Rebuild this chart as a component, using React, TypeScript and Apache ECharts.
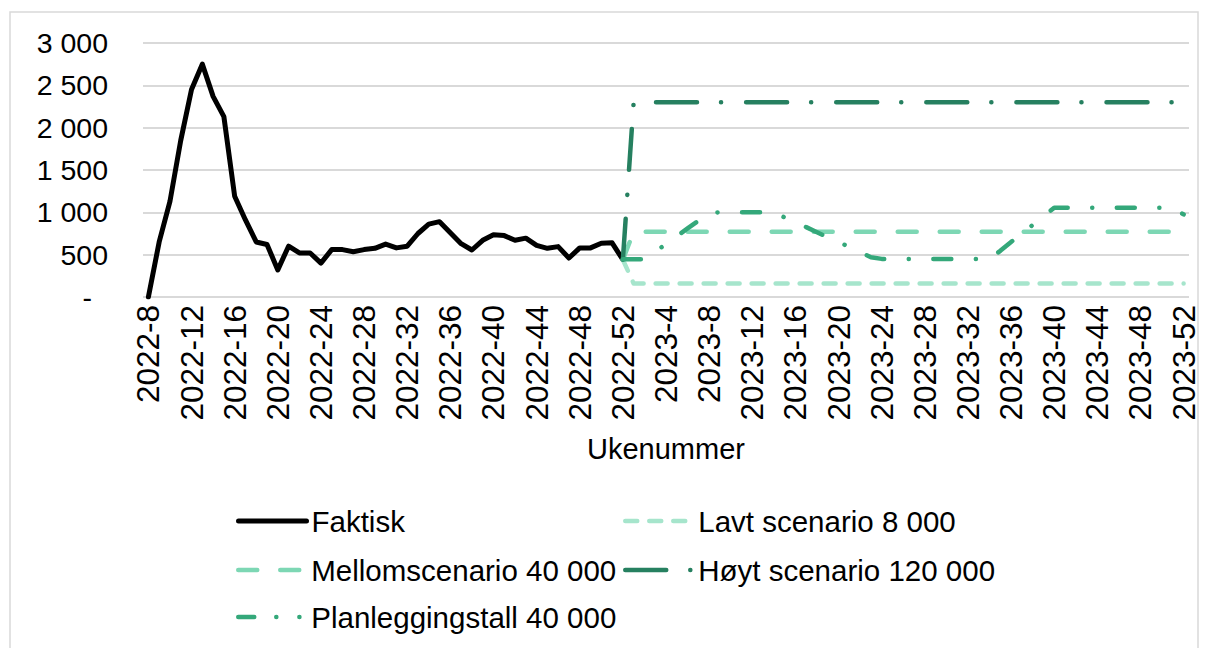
import React, { useEffect, useRef } from "react";
import * as echarts from "echarts";

// Week categories: 2022-8 .. 2022-52, 2023-1 .. 2023-52
const weeks2022 = { year: 2022, from: 8, to: 52 };
const weeks2023 = { year: 2023, from: 1, to: 52 };
const categories: string[] = [];
for (const r of [weeks2022, weeks2023]) {
  for (let w = r.from; w <= r.to; w++) categories.push(`${r.year}-${w}`);
}

// Actual values, 2022-8 .. 2022-52
const faktisk = [
  0, 650, 1130, 1850, 2450, 2750, 2370, 2130, 1190, 910,
  650, 620, 320, 600, 520, 520, 400, 560, 560, 535,
  560, 575, 625, 580, 600, 750, 860, 890, 760, 630,
  555, 670, 735, 725, 670, 695, 610, 575, 595, 460,
  580, 580, 635, 640, 440,
];

// Scenarios, 2022-52 .. 2023-52
const lavt = [
  440, 160, 160, 160, 160, 160, 160, 160, 160, 160, 160, 160, 160, 160, 160, 160, 160, 160,
  160, 160, 160, 160, 160, 160, 160, 160, 160, 160, 160, 160, 160, 160, 160, 160, 160, 160,
  160, 160, 160, 160, 160, 160, 160, 160, 160, 160, 160, 160, 160, 160, 160, 160, 160,
];
const mellom = [
  440, 770, 770, 770, 770, 770, 770, 770, 770, 770, 770, 770, 770, 770, 770, 770, 770, 770,
  770, 770, 770, 770, 770, 770, 770, 770, 770, 770, 770, 770, 770, 770, 770, 770, 770, 770,
  770, 770, 770, 770, 770, 770, 770, 770, 770, 770, 770, 770, 770, 770, 770, 770, 770,
];
const hoyt = [
  440, 2300, 2300, 2300, 2300, 2300, 2300, 2300, 2300, 2300, 2300, 2300, 2300, 2300, 2300, 2300, 2300, 2300,
  2300, 2300, 2300, 2300, 2300, 2300, 2300, 2300, 2300, 2300, 2300, 2300, 2300, 2300, 2300, 2300, 2300, 2300,
  2300, 2300, 2300, 2300, 2300, 2300, 2300, 2300, 2300, 2300, 2300, 2300, 2300, 2300, 2300, 2300, 2300,
];
const planlegging = [
  445, 445, 445, 535, 625, 718, 810, 900, 995, 1000, 1000, 1000, 1000, 1000, 1000, 940,
  880, 825, 765, 705, 650, 590, 530, 470, 450, 450, 450, 450, 450, 450, 450, 450,
  450, 450, 450, 545, 650, 750, 850, 950, 1055, 1055, 1055, 1055, 1055, 1055, 1055, 1055,
  1055, 1055, 1055, 1055, 975,
];

const yTicks = { min: 0, max: 3000, interval: 500 };

const FONT = "Liberation Sans, Arial, sans-serif";
const FS_Y = 28.5;
const FS_X = 31.5;
const FS_LEG = 29.5;
const FS_NAME = 29;
const LW = 4.5;

const scenarioStart = faktisk.length - 1;
const pad = (arr: number[]) => [
  ...new Array(scenarioStart).fill(null),
  ...arr,
];

const fmt = (v: number) =>
  String(v).replace(/\B(?=(\d{3})+(?!\d))/g, " ");

const styles = {
  faktisk: { color: "#000000", type: "solid" as any, width: 5 },
  lavt: { color: "#a6e5cc", type: [12, 12], width: LW },
  mellom: { color: "#7dd7b4", type: [19, 23], width: LW },
  hoyt: { color: "#268060", type: [41, 24, 0.1, 25], width: LW },
  plan: { color: "#34a87a", type: [18, 24.5, 0.1, 24.5], width: LW },
};

export default function App() {
  const ref = useRef<HTMLDivElement>(null);
  useEffect(() => {
    if (!ref.current) return;
    const chart = echarts.init(ref.current, undefined, { renderer: "svg" });

    const mk = (name: string, data: any[], st: any) => ({
      name,
      type: "line",
      data,
      color: st.color,
      symbol: "none",
      showSymbol: false,
      connectNulls: false,
      emphasis: { disabled: true },
      lineStyle: { width: st.width, color: st.color, type: st.type, cap: "round", join: "round" },
    });

    const series: any[] = [
      mk("Faktisk", [...faktisk, ...new Array(categories.length - faktisk.length).fill(null)], styles.faktisk),
      mk("Lavt scenario 8 000", pad(lavt), styles.lavt),
      mk("Mellomscenario 40 000", pad(mellom), styles.mellom),
      mk("Høyt scenario 120 000", pad(hoyt), styles.hoyt),
      mk("Planleggingstall 40 000", pad(planlegging), styles.plan),
    ];

    const legendBase = {
      orient: "horizontal",
      padding: 0,
      itemWidth: 68,
      itemHeight: 14,
      itemGap: 5,
      selectedMode: false,
      itemStyle: { opacity: 0 },
      textStyle: { fontFamily: FONT, fontSize: FS_LEG, color: "#000", lineHeight: 30 },
    };
    const leg = (name: string, st: any, left: number, top: number, type?: any) => ({
      ...legendBase,
      data: [name],
      left,
      top,
      lineStyle: { width: st.width, color: st.color, type: type ?? st.type, cap: "round", opacity: 1 },
    });
    const col1 = 236;
    const col2 = 623;
    const rows = [506, 555, 602];

    chart.setOption({
      animation: false,
      backgroundColor: "#ffffff",
      textStyle: { fontFamily: FONT },
      grid: { left: 143, right: 17, top: 43, bottom: 351, containLabel: false },
      xAxis: {
        type: "category",
        data: categories,
        boundaryGap: true,
        axisLine: { show: false },
        axisTick: { show: false },
        axisLabel: {
          interval: 3,
          rotate: 90,
          margin: 8,
          color: "#000",
          fontFamily: FONT,
          fontSize: FS_X,
        },
        name: "Ukenummer",
        nameLocation: "middle",
        nameGap: 137,
        nameTextStyle: { color: "#000", fontFamily: FONT, fontSize: FS_NAME },
        splitLine: { show: false },
      },
      yAxis: {
        type: "value",
        min: yTicks.min,
        max: yTicks.max,
        interval: yTicks.interval,
        axisLine: { show: false },
        axisTick: { show: false },
        splitLine: { show: true, lineStyle: { color: "#d9d9d9", width: 2 } },
        axisLabel: {
          margin: 35,
          color: "#000",
          fontFamily: FONT,
          fontSize: FS_Y,
          formatter: (v: number) => (v === 0 ? "{d|-}" : fmt(v)),
          rich: {
            d: { fontFamily: FONT, fontSize: FS_Y, color: "#000", padding: [0, 16, 0, 0] },
          },
        },
      },
      legend: [
        leg("Faktisk", styles.faktisk, col1, rows[0]),
        leg("Lavt scenario 8 000", styles.lavt, col2, rows[0]),
        leg("Mellomscenario 40 000", styles.mellom, col1, rows[1]),
        leg("Høyt scenario 120 000", styles.hoyt, col2, rows[1]),
        leg("Planleggingstall 40 000", styles.plan, col1, rows[2], [16, 22, 0.1, 23, 0.1, 50]),
      ],
      graphic: [
        {
          type: "rect",
          shape: { x: 10, y: 12, width: 1188, height: 700 },
          style: { fill: "none", stroke: "#d9d9d9", lineWidth: 1.5 },
          silent: true,
        },
      ],
      series,
    });
    return () => chart.dispose();
  }, []);

  return (
    <div
      ref={ref}
      style={{ position: "absolute", left: 0, top: 0, width: 1206, height: 648 }}
    />
  );
}
